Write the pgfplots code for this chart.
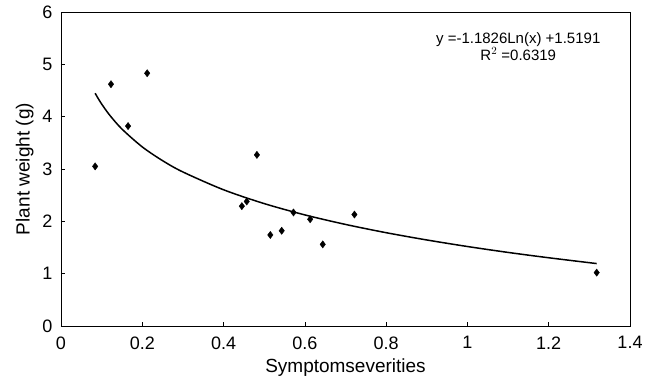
\documentclass[border=0pt]{standalone}
\usepackage{fontspec}
\setmainfont{Liberation Sans}
\usepackage{pgfplots}
\pgfplotsset{compat=1.18}
\begin{document}
\begin{tikzpicture}
\begin{axis}[
  name=ax,
  scale only axis,
  width=569pt, height=314pt,
  xmin=0, xmax=1.4, ymin=0, ymax=6,
  xtick={0,0.2,...,1.4},
  ytick={0,1,...,6},
  xticklabels={0,0.2,0.4,0.6,0.8,1,1.2,1.4},
  xtick pos=bottom, ytick pos=left,
  tick align=inside,
  major tick length=4pt,
  tick style={black, line width=0.6pt},
  axis line style={black, line width=0.8pt},
  /pgf/number format/assume math mode=true,
  ticklabel style={font=\fontsize{18}{18}\selectfont},
  xticklabel style={yshift=-7pt},
  yticklabel style={xshift=-5pt},
  xlabel={Symptomseverities},
  ylabel={Plant weight (g)},
  label style={font=\fontsize{19}{19}\selectfont},
  xlabel style={yshift=-3pt},
  ylabel style={yshift=2pt},
]
\addplot[only marks, mark=diamond*, mark size=3.6pt, black] coordinates {
  (0.084,3.05) (0.123,4.62) (0.212,4.83) (0.165,3.82) (0.482,3.27)
  (0.445,2.29) (0.457,2.38) (0.515,1.74) (0.543,1.82) (0.572,2.17)
  (0.613,2.04) (0.644,1.56) (0.722,2.13) (1.318,1.02)
};
\addplot[black, line width=1.5pt, smooth] coordinates {
  (0.084,4.448) (0.09,4.367) (0.1,4.242) (0.12,4.027) (0.15,3.763)
  (0.2,3.422) (0.25,3.159) (0.3,2.943) (0.4,2.603) (0.5,2.339)
  (0.6,2.123) (0.7,1.941) (0.8,1.783) (0.9,1.644) (1.0,1.519)
  (1.1,1.406) (1.2,1.304) (1.318,1.193)
};
\node[align=center, font=\fontsize{15}{13.5}\selectfont] at (axis cs:1.125,5.34)
  {y =-1.1826Ln(x) +1.5191\\R$^2$ =0.6319};
\end{axis}
\pgfresetboundingbox
\path ([shift={(-61pt,-55pt)}]ax.south west) rectangle ([shift={(22pt,12pt)}]ax.north east);
\end{tikzpicture}
\end{document}
